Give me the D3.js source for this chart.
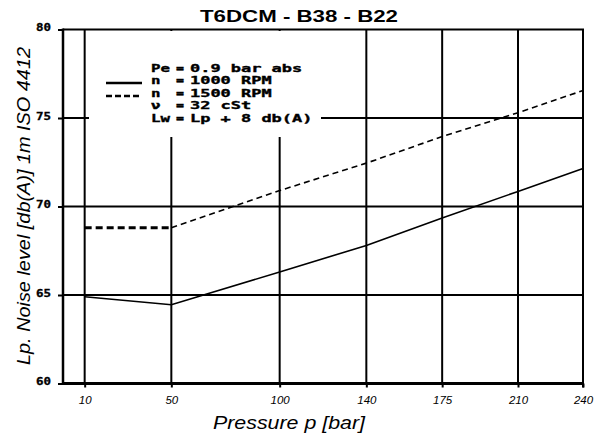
<!DOCTYPE html>
<html>
<head>
<meta charset="utf-8">
<script src="https://cdn.jsdelivr.net/npm/d3@7"></script>
<style>
body { margin: 0; background: #fff; }
</style>
</head>
<body>
<script>
var pressure = [10, 50, 100, 140, 175, 210, 240];
var noise1000 = [64.9, 64.45, 66.3, 67.8, 69.35, 70.85, 72.15];
var noise1500 = [68.8, 68.8, 70.9, 72.45, 73.95, 75.3, 76.55];
var xTicks = [10, 50, 100, 140, 175, 210, 240];
var yTicks = [60, 65, 70, 75, 80];
var legendKeys = ["Pe", "n", "n", "ν", "Lw"];
var legendValues = ["0.9 bar abs", "1000 RPM", "1500 RPM", "32 cSt", "Lp + 8 db(A)"];
var title = "T6DCM - B38 - B22";
var xTitle = "Pressure p [bar]";
var yTitle = "Lp. Noise level [db(A)] 1m ISO 4412";

var width = 600, height = 436;
var plotL = 63, plotR = 583, plotT = 29.5, plotB = 383.5;
var pixFont = "'DejaVu Sans Mono', monospace";

var svg = d3.select("body").append("svg")
	.attr("width", width).attr("height", height)
	.style("font-family", "'Liberation Sans', Arial, sans-serif");

var x = d3.scaleLinear().domain([0, 240]).range([plotL, plotR]);
var y = d3.scaleLinear().domain([60, 80]).range([plotB, plotT]);

// grid
svg.append("g").selectAll("line").data(xTicks).join("line")
	.attr("x1", d => x(d)).attr("x2", d => x(d))
	.attr("y1", plotT).attr("y2", plotB)
	.attr("stroke", "#000").attr("stroke-width", 2);

svg.append("g").selectAll("line").data(yTicks.filter(d => d > 60 && d < 80)).join("line")
	.attr("x1", plotL).attr("x2", plotR)
	.attr("y1", d => y(d)).attr("y2", d => y(d))
	.attr("stroke", "#000").attr("stroke-width", 2);

// legend background covers the grid
svg.append("rect").attr("x", 89).attr("y", 31).attr("width", 232).attr("height", 106).attr("fill", "#fff");

// axes
var xAxis = svg.append("g").attr("transform", "translate(0," + plotB + ")")
	.call(d3.axisBottom(x).tickValues(xTicks).tickSize(4).tickSizeOuter(0));
xAxis.select(".domain").remove();
xAxis.selectAll("line").attr("stroke-width", 2);
xAxis.selectAll("text")
	.attr("y", 20).attr("dy", 0)
	.style("font-size", "11.5px").style("font-style", "italic")
	.style("font-family", "'Liberation Sans', Arial, sans-serif");

var yAxis = svg.append("g").attr("transform", "translate(" + plotL + ",0)")
	.call(d3.axisLeft(y).tickValues(yTicks).tickSize(5).tickSizeOuter(0));
yAxis.select(".domain").remove();
yAxis.selectAll("line").attr("stroke-width", 2);
yAxis.selectAll("text")
	.attr("x", -12).attr("dy", "0.1em")
	.attr("textLength", 15).attr("lengthAdjust", "spacingAndGlyphs")
	.attr("stroke", "#000").attr("stroke-width", 0.3)
	.style("font-size", "10px").style("font-weight", "bold")
	.style("font-family", pixFont);

// frame
svg.append("line").attr("x1", plotL).attr("x2", plotL).attr("y1", plotT - 1).attr("y2", plotB + 1.5)
	.attr("stroke", "#000").attr("stroke-width", 2.5);
svg.append("line").attr("x1", plotL).attr("x2", plotR + 1).attr("y1", plotT).attr("y2", plotT)
	.attr("stroke", "#000").attr("stroke-width", 2);
svg.append("line").attr("x1", plotR).attr("x2", plotR).attr("y1", plotT).attr("y2", plotB + 4)
	.attr("stroke", "#000").attr("stroke-width", 2);
svg.append("line").attr("x1", plotL).attr("x2", plotR + 1).attr("y1", plotB).attr("y2", plotB)
	.attr("stroke", "#000").attr("stroke-width", 3);

// series
var pts1000 = pressure.map((p, i) => [p, noise1000[i]]);
var pts1500 = pressure.map((p, i) => [p, noise1500[i]]);
var line = d3.line().x(d => x(d[0])).y(d => y(d[1]));

svg.append("path").attr("d", line(pts1000))
	.attr("fill", "none").attr("stroke", "#000").attr("stroke-width", 1.6);
svg.append("path").attr("d", line(pts1500.slice(0, 2)))
	.attr("fill", "none").attr("stroke", "#000").attr("stroke-width", 3)
	.attr("stroke-dasharray", "7,4");
svg.append("path").attr("d", line(pts1500.slice(1)))
	.attr("fill", "none").attr("stroke", "#000").attr("stroke-width", 1.6)
	.attr("stroke-dasharray", "6,4");

// legend
var lg = svg.append("g").style("font-family", pixFont).style("font-weight", "bold").style("font-size", "10.5px")
	.attr("stroke", "#000").attr("stroke-width", 0.35);
var rowY = i => 71.5 + i * 12.5;
lg.selectAll("text.k").data(legendKeys).join("text").attr("class", "k")
	.attr("x", 151).attr("y", (d, i) => rowY(i))
	.attr("textLength", d => d.length * 9.5).attr("lengthAdjust", "spacingAndGlyphs")
	.text(d => d);
lg.selectAll("text.eq").data(legendKeys).join("text").attr("class", "eq")
	.attr("x", 176).attr("y", (d, i) => rowY(i))
	.attr("textLength", 8).attr("lengthAdjust", "spacingAndGlyphs")
	.text("=");
lg.selectAll("text.v").data(legendValues).join("text").attr("class", "v")
	.attr("x", 190).attr("y", (d, i) => rowY(i))
	.attr("textLength", d => d.length * 10.2).attr("lengthAdjust", "spacingAndGlyphs")
	.text(d => d);
lg.append("line").attr("x1", 106).attr("x2", 142).attr("y1", 83).attr("y2", 83)
	.attr("stroke-width", 2.5);
lg.append("line").attr("x1", 106).attr("x2", 142).attr("y1", 96).attr("y2", 96)
	.attr("stroke-width", 2.5).attr("stroke-dasharray", "6,3");

// titles
svg.append("text").attr("x", 299).attr("y", 21.5).attr("text-anchor", "middle")
	.attr("textLength", 198).attr("lengthAdjust", "spacingAndGlyphs")
	.style("font-size", "16.5px").style("font-weight", "bold").text(title);
svg.append("text").attr("x", 289).attr("y", 429).attr("text-anchor", "middle")
	.attr("textLength", 152).attr("lengthAdjust", "spacingAndGlyphs")
	.style("font-size", "18px").style("font-style", "italic").text(xTitle);
svg.append("text").attr("transform", "translate(30,206) rotate(-90)").attr("text-anchor", "middle")
	.attr("textLength", 318).attr("lengthAdjust", "spacingAndGlyphs")
	.style("font-size", "18.5px").style("font-style", "italic").text(yTitle);
</script>
</body>
</html>
